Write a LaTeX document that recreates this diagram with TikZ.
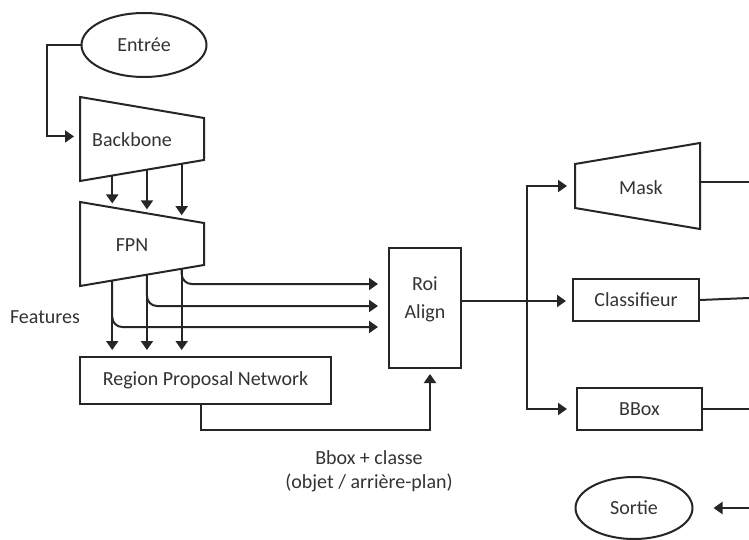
\documentclass[tikz,border=0pt]{standalone}
\usepackage{fontspec}
\setmainfont{Carlito}
\usetikzlibrary{positioning,calc,shapes.geometric,arrows.meta}

\def\edgex{749}

\begin{document}
\begin{tikzpicture}[x=1pt,y=-1pt,line width=2pt,draw=black!85,>={Triangle[length=9pt,width=12pt]}]
            \tikzstyle{every node}=[text=black!80,font=\fontsize{20}{24}\selectfont]
            \tikzstyle{flow}=[->,shorten >=6pt]
            \tikzstyle{terminal}=[ellipse,draw,minimum width=125pt,minimum height=64pt,inner sep=0pt]
            \tikzstyle{block}=[rectangle,draw,minimum width=126pt,minimum height=42pt,inner sep=0pt]

            % Fix the page size
            \path[use as bounding box,fill=white] (0,0) rectangle (\edgex,540);

            % Draw the input and output ellipses
            \node[terminal] (entree) at (144,45) {Entrée};
            \node[terminal,minimum width=117pt,minimum height=62pt] (sortie) at (634,508) {Sortie};

            % Draw the backbone and the FPN as trapezia
            \foreach \name / \y in {bb/97,fpn/202} {
                \coordinate (\name-tl) at (80,\y);
                \coordinate (\name-tr) at (204,\y+21);
                \coordinate (\name-br) at (204,\y+63);
                \coordinate (\name-bl) at (80,\y+84);
                \draw (\name-tl) -- (\name-tr) -- (\name-br) -- (\name-bl) -- cycle;
            }
            \node (bb) at (132,140) {Backbone};
            \node (fpn) at (132,245) {FPN};

            % Draw the mask head, wider on the right
            \coordinate (mask-tl) at (575,164);
            \coordinate (mask-tr) at (700,143);
            \coordinate (mask-br) at (700,229);
            \coordinate (mask-bl) at (575,208);
            \draw (mask-tl) -- (mask-tr) -- (mask-br) -- (mask-bl) -- cycle;
            \node (mask) at (641,188) {Mask};
            \coordinate (mask-l) at ($(mask-tl)!0.5!(mask-bl)$);
            \coordinate (mask-r) at ($(mask-tr)!0.45!(mask-br)$);

            % Draw the boxes
            \node[block,minimum width=251pt,minimum height=47pt] (rpn) at (205.5,380.5) {Region Proposal Network};
            \node[block,minimum width=72pt,minimum height=120pt] (roi) at (425,308) {};
            \node[align=center,font=\fontsize{20}{28}\selectfont] (roi-txt) at (425,299) {Roi\\Align};
            \node[block] (clf) at (636,300) {Classifieur};
            \node[block,minimum width=125pt] (bbox) at (639.5,409) {BBox};

            % Annotate
            \node (feat) at (45,317) {Features};
            \node[align=center] (prop) at (369,471) {Bbox + classe\\(objet / arrière-plan)};

            % Connect the input to the backbone
            \draw[flow] (entree.west) -- ++(-34,0) |- ($(bb-tl)!0.47!(bb-bl)$);

            % Connect the backbone to the FPN
            \foreach \f in {0.26,0.54,0.82}
                \draw[flow,shorten >=4pt] ($(bb-bl)!\f!(bb-br)$) -- ($(fpn-tl)!\f!(fpn-tr)$);

            % Send every FPN level to the RPN and to RoI Align
            \foreach \i / \f / \dy in {1/0.26/19,2/0.54/-2,3/0.82/-24} {
                \coordinate (lvl-\i) at ($(fpn-bl)!\f!(fpn-br)$);
                \draw[flow] (lvl-\i) -- (lvl-\i |- rpn.north);
                \draw[flow,shorten >=10pt,rounded corners=10pt] (lvl-\i) |- ($(roi.west)+(0,\dy)$);
            }

            % Proposals go back to RoI Align
            \draw[flow,shorten >=5pt] ($(rpn.south)+(-5,0)$) -- ++(0,25) -| ($(roi.south)+(5,0)$);

            % Split the RoI Align output to the three heads
            \coordinate (split) at (527,301);
            \draw (roi.east |- split) -- (split);
            \draw[flow,shorten >=8pt] (split) |- (mask-l);
            \draw[flow] (split) -- (split -| clf.west);
            \draw[flow,shorten >=9pt] (split) |- (bbox.west);

            % Outputs of the heads leave on the right
            \coordinate (edge) at (\edgex,0);
            \draw (mask-r) -- (mask-r -| edge);
            \draw (clf.east) -- ($(clf.east -| edge)+(0,-2)$);
            \draw (bbox.east) -- (bbox.east -| edge);
            \draw[flow,shorten >=20pt] (sortie.east -| edge) -- (sortie.east);
        \end{tikzpicture}
\end{document}
